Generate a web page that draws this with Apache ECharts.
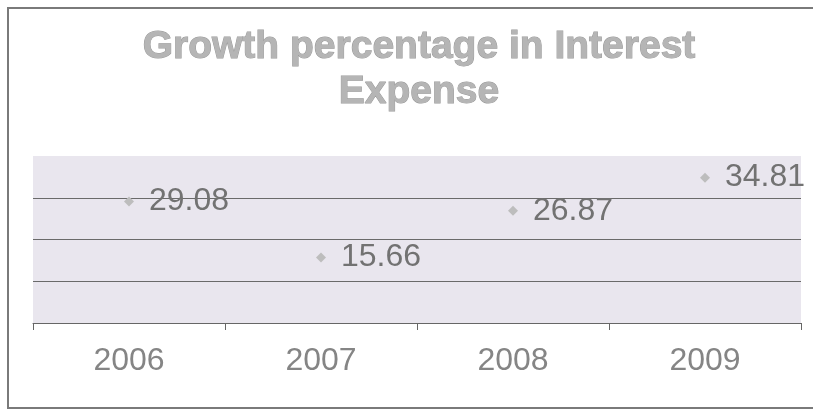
<!DOCTYPE html>
<html>
<head>
<meta charset="utf-8">
<script src="https://cdn.jsdelivr.net/npm/echarts@6/dist/echarts.min.js"></script>
<style>html,body{margin:0;padding:0;background:#fff;}#c{width:813px;height:412px;}</style>
</head>
<body>
<div id="c"></div>
<script>
var titleText = 'Growth percentage in Interest\nExpense';
var years = ['2006', '2007', '2008', '2009'];
var growth = [29.08, 15.66, 26.87, 34.81];
var yTicks = [0, 10, 20, 30, 40];

var chart = echarts.init(document.getElementById('c'));
chart.setOption({
  animation: false,
  backgroundColor: '#ffffff',
  graphic: [{
    type: 'rect',
    shape: { x: 8, y: 8, width: 820, height: 400 },
    style: { fill: 'none', stroke: '#7a7a7a', lineWidth: 2 },
    z: -1
  }],
  title: {
    text: titleText,
    left: 414,
    textAlign: 'center',
    top: 20,
    textStyle: {
      fontFamily: 'Liberation Sans, Arial, sans-serif',
      fontWeight: 'bold',
      fontSize: 39,
      lineHeight: 45,
      color: '#b5b5b5',
      textBorderColor: '#9a9a9a',
      textBorderWidth: 1
    }
  },
  grid: {
    left: 33, right: 12, top: 156, bottom: 89,
    show: true,
    backgroundColor: '#e9e6ee',
    borderWidth: 0
  },
  xAxis: {
    type: 'category',
    data: years,
    boundaryGap: true,
    axisLine: { show: true, lineStyle: { color: '#666', width: 1 } },
    axisTick: { show: true, length: 7, alignWithLabel: false, lineStyle: { color: '#666' } },
    axisLabel: {
      margin: 22,
      fontFamily: 'Liberation Sans, Arial, sans-serif',
      fontSize: 32,
      color: '#858585'
    },
    splitLine: { show: false }
  },
  yAxis: {
    type: 'value',
    min: yTicks[0],
    max: yTicks[yTicks.length - 1],
    interval: 10,
    axisLine: { show: false },
    axisTick: { show: false },
    axisLabel: { show: false },
    splitLine: {
      show: true,
      lineStyle: { color: ['transparent', '#6a6a6a', '#6a6a6a', '#6a6a6a', 'transparent'], width: 1 }
    }
  },
  series: [{
    type: 'line',
    data: growth,
    lineStyle: { width: 0, opacity: 0 },
    symbol: 'diamond',
    symbolSize: 10,
    itemStyle: { color: '#bdbdbd' },
    label: {
      show: true,
      position: 'right',
      distance: 15,
      fontFamily: 'Liberation Sans, Arial, sans-serif',
      fontSize: 32,
      color: '#727272',
      formatter: function (p) { return p.value.toFixed(2); }
    }
  }]
});
</script>
</body>
</html>
